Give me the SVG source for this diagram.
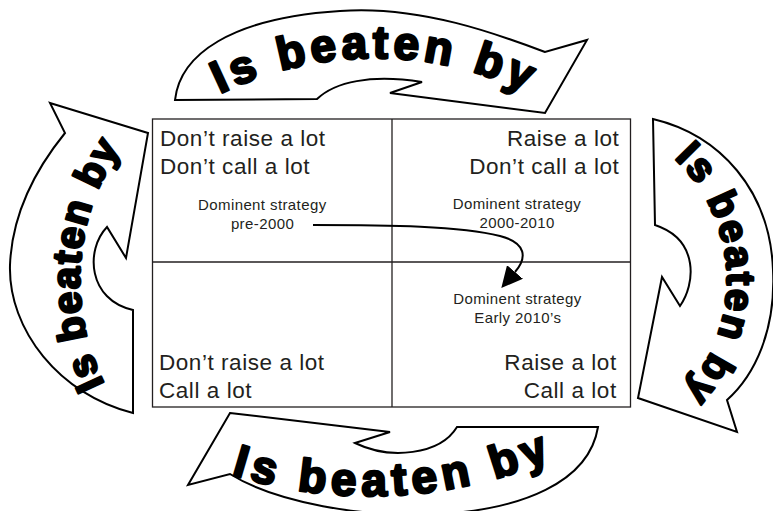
<svg xmlns="http://www.w3.org/2000/svg" width="773" height="511" viewBox="0 0 773 511">
<style>
.big{font-family:"Liberation Sans",Arial,sans-serif;font-size:22.5px;letter-spacing:0.55px;fill:#231f20}
.small{font-family:"Liberation Sans",Arial,sans-serif;font-size:15px;letter-spacing:0.4px;fill:#231f20;text-anchor:middle}
.end{text-anchor:end}
.grid{fill:none;stroke:#231f20;stroke-width:1.3}
.band{fill:#fff;stroke:#000;stroke-width:2;stroke-linejoin:miter}
.lbl{font-family:"Liberation Sans",Arial,sans-serif;font-weight:bold;fill:#000;stroke:#000;stroke-width:2.5;stroke-linejoin:round}
.conn{fill:none;stroke:#000;stroke-width:2}
</style>
<defs>
<path id="pTop" d="M148.7,140.4 A352,352 0 0 1 601.3,140.4"/>
<path id="pBottom" d="M190,459.7 A465,465 0 0 0 595,437.9"/>
<path id="pLeft" d="M236.8,500.2 A233,233 0 0 1 268.9,51.2"/>
<path id="pRight" d="M597.6,117.3 A167,167 0 0 1 608.8,439.7"/>
<marker id="head" markerUnits="userSpaceOnUse" markerWidth="21" markerHeight="21" viewBox="0 0 21 21" refX="0" refY="10.5" orient="auto">
<path d="M0,0 L21,10.5 L0,21 Z" fill="#000"/>
</marker>
</defs>

<g id="grid">
<rect class="grid" x="152.5" y="119" width="478" height="288"/>
<line class="grid" x1="392" y1="119" x2="392" y2="407"/>
<line class="grid" x1="152.5" y1="262" x2="630.5" y2="262"/>
</g>

<g id="q-top-left">
<text class="big" x="160" y="145.7">Don’t raise a lot</text>
<text class="big" x="160" y="174.3">Don’t call a lot</text>
<text class="small" x="262.3" y="210">Dominent strategy</text>
<text class="small" x="262.5" y="229">pre-2000</text>
</g>

<g id="q-top-right">
<text class="big end" x="619.3" y="145.7">Raise a lot</text>
<text class="big end" x="619.3" y="174.3">Don’t call a lot</text>
<text class="small" x="517" y="209">Dominent strategy</text>
<text class="small" x="517.2" y="227.7">2000-2010</text>
</g>

<g id="q-bottom-right">
<text class="small" x="517.5" y="304">Dominent strategy</text>
<text class="small" x="517.8" y="323">Early 2010’s</text>
<text class="big end" x="616.7" y="370">Raise a lot</text>
<text class="big end" x="616.7" y="398.3">Call a lot</text>
</g>

<g id="q-bottom-left">
<text class="big" x="159" y="370">Don’t raise a lot</text>
<text class="big" x="159" y="398.3">Call a lot</text>
</g>

<g id="arrow-top">
<path class="band" d="M175,100 C180,55 230,18 340,11 C420,5 500,35 545,52 L587,40 L545,113 L390,93 L422,82 C370,74 335,82 317,99 Z"/>
<text class="lbl" font-size="46" letter-spacing="4.6"><textPath href="#pTop" startOffset="50%" text-anchor="middle">Is beaten by</textPath></text>
</g>

<g id="arrow-right">
<path class="band" d="M653,119 C720,135 770,190 773,270 C776,330 755,375 727,400 L737,432 L638,398 L662,277 L680,306 C695,285 700,240 655,225 Z"/>
<text class="lbl" font-size="40" letter-spacing="2.5"><textPath href="#pRight" startOffset="50%" text-anchor="middle">Is beaten by</textPath></text>
</g>

<g id="arrow-bottom">
<path class="band" d="M230,413 L390,432 L355,443 C390,460 440,455 457,427 L598,427 C580,540 320,530 230,474 L188,485 Z"/>
<text class="lbl" font-size="46" letter-spacing="5.5"><textPath href="#pBottom" startOffset="50%" text-anchor="middle">Is beaten by</textPath></text>
</g>

<g id="arrow-left">
<path class="band" d="M50,103 L148,133 L126,258 L107,227 C85,250 88,300 133,310 L133,413 C60,395 8,330 10,265 C12,215 35,170 65,133 Z"/>
<text class="lbl" font-size="40" letter-spacing="1.5"><textPath href="#pLeft" startOffset="50%" text-anchor="middle">Is beaten by</textPath></text>
</g>

<g id="connectors">
<path class="conn" d="M313,225 C390,225 460,226 500,236 C527,243 527,258 515,272" marker-end="url(#head)"/>
</g>
</svg>
